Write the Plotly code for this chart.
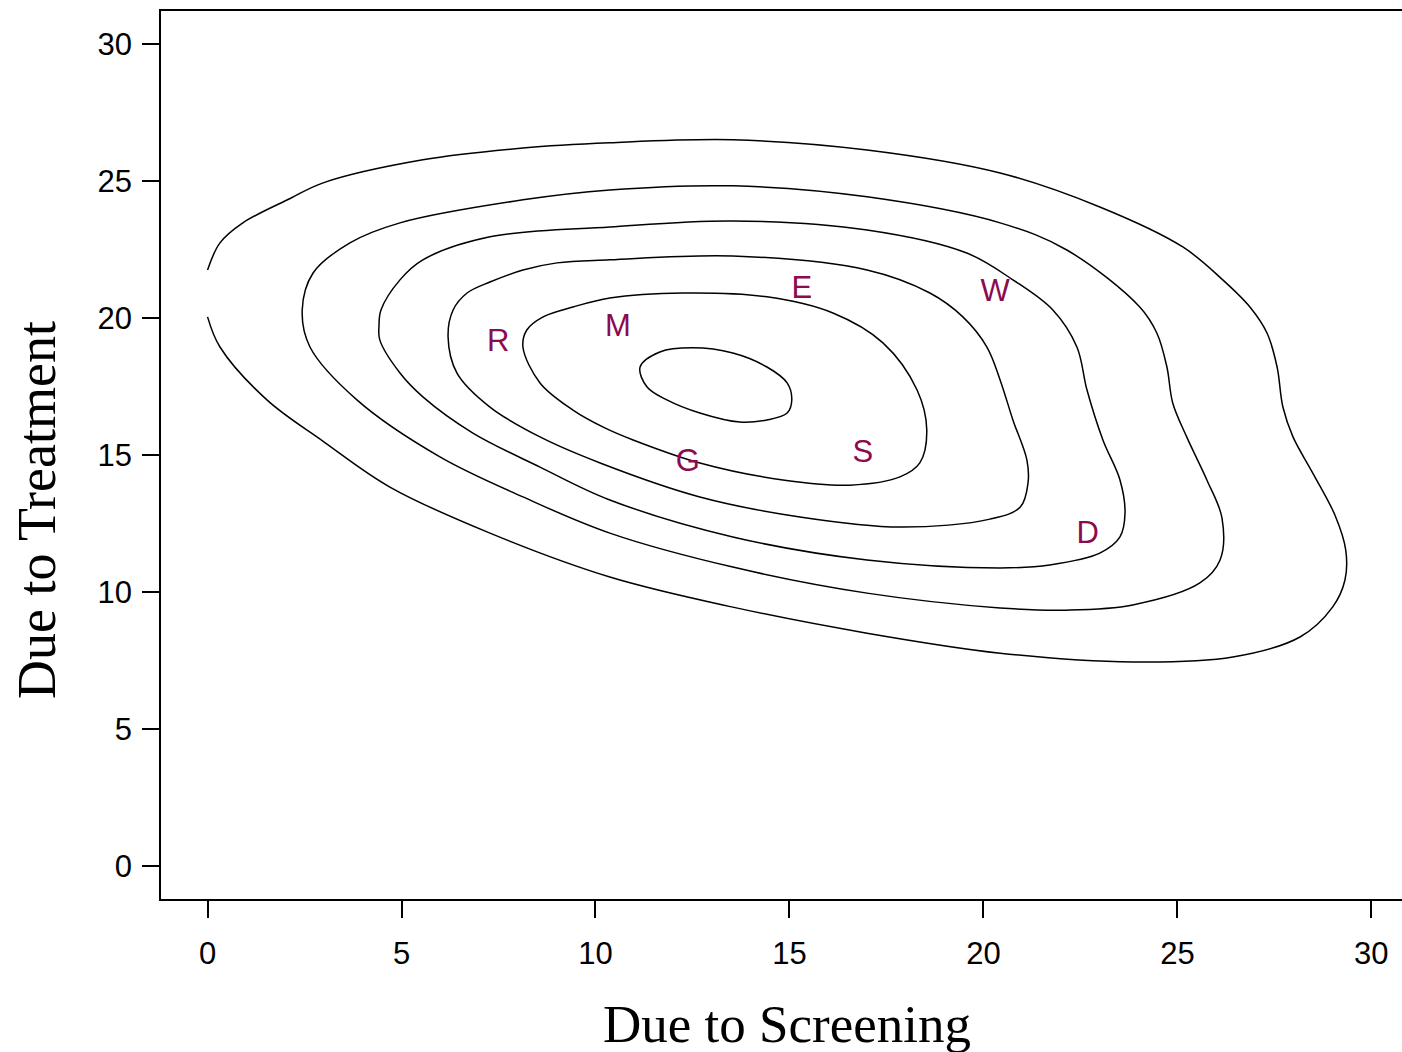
import plotly.graph_objects as go

# Contour levels (outermost -> innermost) (data units)
c1_x = [0.0, 0.32, 0.91, 2.13, 2.98, 5.55, 8.13, 10.37, 13.54, 17.0, 20.43, 23.0, 25.14, 26.17, 26.87, 27.31, 27.57, 27.72, 27.98, 28.49, 29.06, 29.34, 29.32, 29.0, 28.16, 26.43, 23.85, 20.43, 17.0, 13.54, 10.37, 7.28, 4.7, 2.98, 1.53, 0.32, 0.0]
c1_y = [21.75, 22.74, 23.47, 24.36, 24.93, 25.77, 26.2, 26.39, 26.5, 26.13, 25.29, 24.05, 22.59, 21.39, 20.4, 19.45, 18.21, 16.75, 15.66, 14.34, 12.81, 11.53, 10.44, 9.45, 8.36, 7.63, 7.45, 7.77, 8.5, 9.45, 10.55, 12.15, 13.83, 15.5, 17.01, 18.94, 20.04]

c2_x = [2.44, 2.72, 3.67, 4.96, 8.13, 10.37, 13.54, 17.0, 20.43, 22.15, 24.03, 24.47, 24.73, 24.88, 25.24, 25.76, 26.15, 26.1, 25.58, 23.85, 22.15, 20.43, 17.0, 13.54, 10.37, 8.13, 5.99, 3.85, 2.64, 2.44]
c2_y = [20.29, 21.64, 22.74, 23.47, 24.31, 24.67, 24.82, 24.42, 23.47, 22.48, 20.4, 19.45, 18.21, 16.9, 15.66, 14.09, 12.7, 11.17, 10.33, 9.53, 9.34, 9.42, 9.96, 10.91, 12.15, 13.47, 14.93, 17.01, 18.94, 20.29]

c3_x = [4.42, 4.47, 4.96, 5.55, 7.28, 10.37, 13.54, 17.0, 19.57, 20.76, 21.79, 22.41, 22.67, 23.08, 23.52, 23.65, 23.52, 23.0, 21.71, 20.43, 17.0, 13.54, 10.37, 8.57, 6.84, 5.55, 4.96, 4.44, 4.42]
c3_y = [19.74, 20.29, 21.39, 22.12, 22.96, 23.32, 23.54, 23.21, 22.37, 21.39, 20.29, 18.94, 17.37, 15.55, 14.09, 12.88, 12.01, 11.42, 10.99, 10.88, 11.17, 12.01, 13.36, 14.56, 15.8, 17.12, 17.99, 19.2, 19.74]

c4_x = [6.2, 6.33, 6.69, 7.28, 8.13, 9.01, 10.37, 13.54, 17.0, 18.62, 19.47, 20.09, 20.43, 20.76, 21.12, 21.15, 20.95, 20.17, 17.85, 15.27, 12.69, 10.12, 8.57, 7.28, 6.43, 6.2]
c4_y = [19.31, 20.29, 20.91, 21.31, 21.75, 22.01, 22.12, 22.26, 21.75, 20.91, 20.04, 18.94, 17.74, 16.28, 14.82, 13.98, 13.1, 12.66, 12.37, 12.74, 13.47, 14.71, 15.66, 16.75, 17.99, 19.31]

c5_x = [8.13, 8.23, 8.65, 9.42, 10.37, 12.26, 14.42, 16.12, 17.41, 18.29, 18.54, 18.36, 17.85, 16.56, 14.83, 12.69, 10.97, 10.24, 9.42, 8.57, 8.13]
c5_y = [18.94, 19.56, 20.04, 20.4, 20.73, 20.91, 20.77, 20.18, 19.09, 17.37, 15.91, 14.71, 14.2, 13.9, 14.09, 14.71, 15.55, 15.99, 16.64, 17.63, 18.94]

c6_x = [11.15, 11.66, 12.51, 13.54, 14.42, 14.94, 15.06, 14.94, 14.42, 13.72, 12.69, 11.84, 11.33, 11.15]
c6_y = [18.21, 18.76, 18.91, 18.72, 18.21, 17.63, 17.01, 16.53, 16.28, 16.2, 16.53, 17.01, 17.48, 18.21]

# Labelled points
labels = ["R", "M", "E", "W", "G", "S", "D"]
label_x = [7.49, 10.58, 15.32, 20.3, 12.38, 16.89, 22.69]
label_y = [19.09, 19.64, 21.02, 20.91, 14.71, 15.04, 12.08]

tick_vals = [0, 5, 10, 15, 20, 25, 30]

fig = go.Figure()
for cx, cy in [(c1_x, c1_y), (c2_x, c2_y), (c3_x, c3_y), (c4_x, c4_y), (c5_x, c5_y), (c6_x, c6_y)]:
    fig.add_trace(go.Scatter(x=cx, y=cy, mode="lines",
                             line=dict(color="black", width=1.5, shape="spline", smoothing=1.0),
                             hoverinfo="skip", showlegend=False))

fig.add_trace(go.Scatter(x=label_x, y=label_y, mode="text", text=labels,
                         textposition="middle center",
                         textfont=dict(family="Liberation Sans, Arial", size=31, color="#8B0A50"),
                         hoverinfo="skip", showlegend=False))

axis_common = dict(
    showgrid=False, zeroline=False, showline=True, linecolor="black", linewidth=1.6,
    ticks="outside", ticklen=17, tickwidth=1.6, tickcolor="black",
    tickvals=tick_vals, ticktext=[str(v) for v in tick_vals],
    tickfont=dict(family="Liberation Sans, Arial", size=31, color="black"),
)

fig.update_layout(
    width=1402, height=1052,
    margin=dict(l=161, r=0, t=11, b=153),
    paper_bgcolor="white", plot_bgcolor="white",
    xaxis=dict(range=[-1.2, 30.79], mirror=True, ticklabelstandoff=9, **axis_common),
    yaxis=dict(range=[-1.2, 31.2], mirror=False, ticklabelstandoff=4, **axis_common),
    annotations=[
        dict(text="Due to Screening", xref="paper", yref="paper", x=0.5044, y=-0.1408,
             xanchor="center", yanchor="middle", showarrow=False,
             font=dict(family="Liberation Serif, Times New Roman", size=53, color="black")),
        dict(text="Due to Treatment", xref="paper", yref="paper", x=-0.0999, y=0.438,
             xanchor="center", yanchor="middle", textangle=-90, showarrow=False,
             font=dict(family="Liberation Serif, Times New Roman", size=54, color="black")),
    ],
)

fig.write_html("out.html", config={"displayModeBar": False},
               post_script="document.body.style.margin='0';document.body.style.overflow='hidden';")
